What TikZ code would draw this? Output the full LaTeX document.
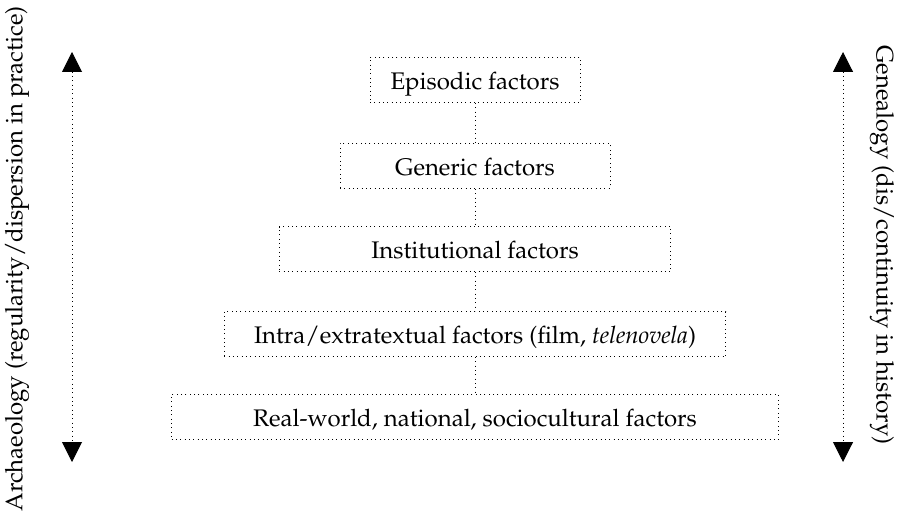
\documentclass[tikz,border=0pt]{standalone}
\usepackage[T1]{fontenc}
\usepackage{mathpazo}
\usetikzlibrary{arrows.meta}

\begin{document}
\begin{tikzpicture}[x=0.6pt, y=-0.6pt, font=\fontsize{14.4}{17}\selectfont,
  layer/.style={draw, dotted, line width=0.6pt, minimum height=27pt, inner sep=0pt,
    text height=11pt, text depth=0pt},
  link/.style={dotted, line width=0.6pt},
  axis/.style={dotted, line width=0.6pt, {Triangle[width=12pt,length=12pt]}-{Triangle[width=12pt,length=12pt]}},
]
\useasboundingbox (0,0) rectangle (897,513);
% the five levels
\node[layer, minimum width=126pt] (epi) at (475,80) {Episodic factors};
\node[layer, minimum width=162pt] (gen) at (475,166) {Generic factors};
\node[layer, minimum width=235pt] (inst) at (475,249) {Institutional factors};
\node[layer, minimum width=301pt] (intra) at (475,334) {Intra/extratextual factors (film, \textit{telenovela})};
\node[layer, minimum width=364pt] (real) at (475,417) {Real-world, national, sociocultural factors};
\draw[link] (epi) -- (gen);
\draw[link] (gen) -- (inst);
\draw[link] (inst) -- (intra);
\draw[link] (intra) -- (real);
% side axes
\coordinate (atop) at (72,52);
\coordinate (abot) at (72,462);
\coordinate (gtop) at (843,52);
\coordinate (gbot) at (843,462);
\draw[axis] (atop) -- (abot);
\draw[axis] (gtop) -- (gbot);
\node[rotate=90] (arch) at (17,259) {Archaeology (regularity/dispersion in practice)};
\node[rotate=-90] (gene) at (882,245) {Genealogy (dis/continuity in history)};
\end{tikzpicture}
\end{document}
